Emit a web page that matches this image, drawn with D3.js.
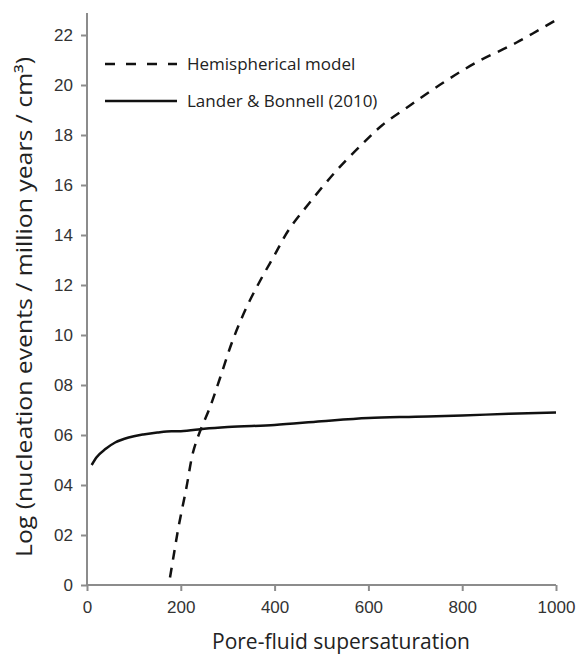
<!DOCTYPE html>
<html>
<head>
<meta charset="utf-8">
<script src="https://cdn.jsdelivr.net/npm/d3@7"></script>
<style>
  body { margin: 0; background: #fff; }
  svg { font-family: "Open Sans", sans-serif; }
  .ticktext { fill: #333; font-size: 17px; }
  .axis path, .axis line { stroke: #8c8c8c; stroke-width: 2; }
  .axis-label { fill: #222; font-size: 21px; }
  .legend-text { fill: #222; font-size: 17px; }
</style>
</head>
<body>
<svg width="579" height="656"></svg>
<script>
// Lander & Bonnell (2010), solid line
const landerX = [10, 20, 40, 60, 80, 100, 120, 150, 180, 200, 250, 300, 400, 500, 600, 700, 800, 900, 1000];
const landerY = [4.8, 5.1, 5.45, 5.7, 5.85, 5.95, 6.02, 6.1, 6.15, 6.15, 6.25, 6.32, 6.4, 6.55, 6.68, 6.73, 6.78, 6.85, 6.9];

// Hemispherical model, dashed line
const hemiX = [177, 185, 195, 212, 226, 240, 262, 284, 311, 340, 370, 400, 430, 475, 533, 590, 630, 690, 760, 830, 916, 1000];
const hemiY = [0.3, 1.2, 2.3, 3.9, 5.3, 6.1, 7.1, 8.3, 9.8, 11.1, 12.2, 13.2, 14.2, 15.3, 16.6, 17.7, 18.4, 19.2, 20.1, 20.9, 21.7, 22.6];

const xTicks = [0, 200, 400, 600, 800, 1000];
const yTicks = [0, 2, 4, 6, 8, 10, 12, 14, 16, 18, 20, 22];
const yTickLabels = ['0', '02', '04', '06', '08', '10', '12', '14', '16', '18', '20', '22'];

const seriesNames = ['Hemispherical model', 'Lander & Bonnell (2010)'];

const svg = d3.select('svg');
const width  = +svg.attr('width');
const height = +svg.attr('height');

const margin = { top: 13, bottom: 71, left: 87, right: 23 };
const innerWidth = width - margin.left - margin.right;
const innerHeight = height - margin.top - margin.bottom;

const g = svg.append('g')
  .attr('transform', `translate(${margin.left},${margin.top})`);

const xScale = d3.scaleLinear()
  .domain([0, 1000])
  .range([0, innerWidth]);

const yScale = d3.scaleLinear()
  .domain([0, 22.88])
  .range([innerHeight, 0]);

// axes
const yAxis = g.append('g').attr('class', 'axis')
  .call(d3.axisLeft(yScale).tickValues(yTicks).tickSize(6).tickPadding(8)
    .tickFormat((d, i) => yTickLabels[i]));

const xAxis = g.append('g').attr('class', 'axis')
  .attr('transform', `translate(0,${innerHeight})`)
  .call(d3.axisBottom(xScale).tickValues(xTicks).tickSize(6).tickPadding(10)
    .tickFormat(d3.format('d')));

// plain axis lines, no end caps
yAxis.select('.domain').attr('d', `M0,0V${innerHeight}`);
xAxis.select('.domain').attr('d', `M0,0H${innerWidth}`);
g.selectAll('.tick text').attr('class', 'ticktext');

// lines
const toPoints = (xs, ys) => xs.map((x, i) => ({ x: x, y: ys[i] }));
const line = d3.line()
  .x(d => xScale(d.x))
  .y(d => yScale(d.y))
  .curve(d3.curveMonotoneX);

g.append('path')
  .datum(toPoints(landerX, landerY))
  .attr('fill', 'none')
  .attr('stroke', '#111')
  .attr('stroke-width', 2.5)
  .attr('d', line);

g.append('path')
  .datum(toPoints(hemiX, hemiY))
  .attr('fill', 'none')
  .attr('stroke', '#111')
  .attr('stroke-width', 2.5)
  .attr('stroke-dasharray', '10,8')
  .attr('d', d3.line().x(d => xScale(d.x)).y(d => yScale(d.y)).curve(d3.curveCatmullRom));

// legend
const legend = svg.append('g');
const legendY = [64, 101];
legend.selectAll('line')
  .data(seriesNames).enter()
  .append('line')
    .attr('x1', 105).attr('x2', 177)
    .attr('y1', (d, i) => legendY[i]).attr('y2', (d, i) => legendY[i])
    .attr('stroke', '#111')
    .attr('stroke-width', 2.5)
    .attr('stroke-dasharray', (d, i) => i === 0 ? '10,11' : null);
legend.selectAll('text')
  .data(seriesNames).enter()
  .append('text')
    .attr('class', 'legend-text')
    .attr('x', 187)
    .attr('y', (d, i) => legendY[i] + 6)
    .text(d => d);

// axis labels
svg.append('text')
  .attr('class', 'axis-label')
  .attr('text-anchor', 'middle')
  .attr('x', 341)
  .attr('y', 649)
  .text('Pore-fluid supersaturation');

svg.append('text')
  .attr('class', 'axis-label')
  .attr('text-anchor', 'middle')
  .attr('transform', 'translate(32,307) rotate(-90)')
  .attr('textLength', 500)
  .attr('lengthAdjust', 'spacingAndGlyphs')
  .text('Log (nucleation events / million years / cm³)');
</script>
</body>
</html>
